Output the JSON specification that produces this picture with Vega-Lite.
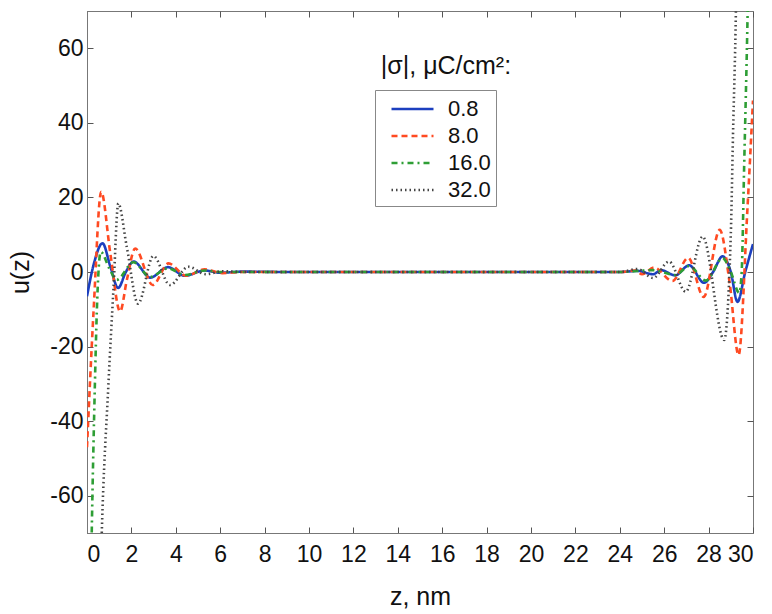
{
  "$schema": "https://vega.github.io/schema/vega-lite/v6.json",
  "width": 666,
  "height": 522,
  "autosize": {"type": "none"},
  "padding": {"left": 87, "top": 11, "right": 19, "bottom": 81},
  "background": "#ffffff",
  "config": {
    "font": "Liberation Sans",
    "view": {"stroke": "#777", "strokeWidth": 1},
    "axis": {"labelFont": "Liberation Sans", "titleFont": "Liberation Sans", "labelFontSize": 23, "titleFontSize": 25, "titleFontWeight": "normal", "labelColor": "#111", "titleColor": "#111", "domainColor": "#777", "tickColor": "#555", "grid": false, "tickSize": -6, "labelExpr": "replace(datum.label, '−', '-')"}
  },
  "datasets": {
    "curves": [
      {"z": 0, "u": -6.5, "s": "0.8"}, {"z": 0.3, "u": 2, "s": "0.8"}, {"z": 0.7, "u": 7.7, "s": "0.8"}, {"z": 1.05, "u": 1.5, "s": "0.8"}, {"z": 1.4, "u": -4.3, "s": "0.8"}, {"z": 1.75, "u": 0, "s": "0.8"}, {"z": 2.1, "u": 2.8, "s": "0.8"}, {"z": 2.85, "u": -1.5, "s": "0.8"}, {"z": 3.65, "u": 1.3, "s": "0.8"}, {"z": 4.4, "u": -1.0, "s": "0.8"}, {"z": 5.3, "u": 0.4, "s": "0.8"}, {"z": 6.0, "u": -0.2, "s": "0.8"}, {"z": 7, "u": 0.1, "s": "0.8"}, {"z": 9, "u": 0, "s": "0.8"}, {"z": 12, "u": 0, "s": "0.8"}, {"z": 15, "u": 0, "s": "0.8"}, {"z": 18, "u": 0, "s": "0.8"}, {"z": 21, "u": 0, "s": "0.8"}, {"z": 23, "u": 0, "s": "0.8"}, {"z": 24, "u": 0, "s": "0.8"}, {"z": 24.8, "u": 0.3, "s": "0.8"}, {"z": 25.5, "u": -0.6, "s": "0.8"}, {"z": 25.85, "u": 0.5, "s": "0.8"}, {"z": 26.5, "u": -0.9, "s": "0.8"}, {"z": 27.12, "u": 1.8, "s": "0.8"}, {"z": 27.8, "u": -2.9, "s": "0.8"}, {"z": 28.2, "u": 0, "s": "0.8"}, {"z": 28.63, "u": 4.2, "s": "0.8"}, {"z": 29.0, "u": 0, "s": "0.8"}, {"z": 29.3, "u": -8.0, "s": "0.8"}, {"z": 29.65, "u": 0, "s": "0.8"}, {"z": 30, "u": 7.5, "s": "0.8"},

      {"z": 0, "u": -47, "s": "8.0"}, {"z": 0.3, "u": -10, "s": "8.0"}, {"z": 0.64, "u": 21.5, "s": "8.0"}, {"z": 1.05, "u": 5, "s": "8.0"}, {"z": 1.49, "u": -10.6, "s": "8.0"}, {"z": 1.8, "u": -2, "s": "8.0"}, {"z": 2.17, "u": 6.3, "s": "8.0"}, {"z": 2.96, "u": -3.5, "s": "8.0"}, {"z": 3.67, "u": 2.3, "s": "8.0"}, {"z": 4.47, "u": -1.0, "s": "8.0"}, {"z": 5.3, "u": 0.7, "s": "8.0"}, {"z": 6.1, "u": -0.3, "s": "8.0"}, {"z": 7, "u": 0, "s": "8.0"}, {"z": 9, "u": 0, "s": "8.0"}, {"z": 12, "u": 0, "s": "8.0"}, {"z": 15, "u": 0, "s": "8.0"}, {"z": 18, "u": 0, "s": "8.0"}, {"z": 21, "u": 0, "s": "8.0"}, {"z": 23, "u": 0, "s": "8.0"}, {"z": 24, "u": 0, "s": "8.0"}, {"z": 24.7, "u": 0.4, "s": "8.0"}, {"z": 25.0, "u": -0.6, "s": "8.0"}, {"z": 25.55, "u": 1.2, "s": "8.0"}, {"z": 26.37, "u": -2.4, "s": "8.0"}, {"z": 27.08, "u": 3.8, "s": "8.0"}, {"z": 27.78, "u": -6.7, "s": "8.0"}, {"z": 28.5, "u": 11.3, "s": "8.0"}, {"z": 28.95, "u": -3, "s": "8.0"}, {"z": 29.35, "u": -22.3, "s": "8.0"}, {"z": 29.75, "u": 17, "s": "8.0"}, {"z": 30, "u": 46, "s": "8.0"},

      {"z": 0, "u": -160, "s": "16.0"}, {"z": 0.21, "u": -71, "s": "16.0"}, {"z": 0.36, "u": -29, "s": "16.0"}, {"z": 0.44, "u": -11, "s": "16.0"}, {"z": 0.62, "u": 5.4, "s": "16.0"}, {"z": 1.0, "u": 1, "s": "16.0"}, {"z": 1.34, "u": -2.1, "s": "16.0"}, {"z": 2.09, "u": 2.6, "s": "16.0"}, {"z": 2.85, "u": -1.3, "s": "16.0"}, {"z": 3.65, "u": 1.0, "s": "16.0"}, {"z": 4.4, "u": -0.8, "s": "16.0"}, {"z": 5.3, "u": 0.4, "s": "16.0"}, {"z": 6, "u": 0, "s": "16.0"}, {"z": 9, "u": 0, "s": "16.0"}, {"z": 12, "u": 0, "s": "16.0"}, {"z": 15, "u": 0, "s": "16.0"}, {"z": 18, "u": 0, "s": "16.0"}, {"z": 21, "u": 0, "s": "16.0"}, {"z": 24, "u": 0, "s": "16.0"}, {"z": 25.5, "u": 0.5, "s": "16.0"}, {"z": 26.5, "u": -0.8, "s": "16.0"}, {"z": 27.12, "u": 1.6, "s": "16.0"}, {"z": 27.88, "u": -2.3, "s": "16.0"}, {"z": 28.63, "u": 3.7, "s": "16.0"}, {"z": 29.0, "u": 0, "s": "16.0"}, {"z": 29.38, "u": -5.6, "s": "16.0"}, {"z": 29.49, "u": 0, "s": "16.0"}, {"z": 29.6, "u": 28, "s": "16.0"}, {"z": 29.76, "u": 70, "s": "16.0"}, {"z": 30, "u": 160, "s": "16.0"},

      {"z": 0.4, "u": -140, "s": "32.0"}, {"z": 0.66, "u": -71, "s": "32.0"}, {"z": 0.96, "u": -30.7, "s": "32.0"}, {"z": 1.19, "u": -4.8, "s": "32.0"}, {"z": 1.41, "u": 18.4, "s": "32.0"}, {"z": 1.79, "u": 6.8, "s": "32.0"}, {"z": 2.3, "u": -8.5, "s": "32.0"}, {"z": 2.99, "u": 4.3, "s": "32.0"}, {"z": 3.74, "u": -3.5, "s": "32.0"}, {"z": 4.57, "u": 1.4, "s": "32.0"}, {"z": 5.35, "u": -0.6, "s": "32.0"}, {"z": 6.1, "u": 0.2, "s": "32.0"}, {"z": 7, "u": 0, "s": "32.0"}, {"z": 9, "u": 0, "s": "32.0"}, {"z": 12, "u": 0, "s": "32.0"}, {"z": 15, "u": 0, "s": "32.0"}, {"z": 18, "u": 0, "s": "32.0"}, {"z": 21, "u": 0, "s": "32.0"}, {"z": 24, "u": 0, "s": "32.0"}, {"z": 24.8, "u": 0.8, "s": "32.0"}, {"z": 25.5, "u": -1.6, "s": "32.0"}, {"z": 26.22, "u": 2.8, "s": "32.0"}, {"z": 26.97, "u": -5.3, "s": "32.0"}, {"z": 27.73, "u": 9.5, "s": "32.0"}, {"z": 28.7, "u": -18.2, "s": "32.0"}, {"z": 29.0, "u": 10, "s": "32.0"}, {"z": 29.1, "u": 37, "s": "32.0"}, {"z": 29.23, "u": 70, "s": "32.0"}, {"z": 29.4, "u": 150, "s": "32.0"}
    ]
  },
  "layer": [
    {
      "data": {"name": "curves"},
      "mark": {"type": "line", "clip": true, "interpolate": "monotone"},
      "encoding": {
        "x": {"field": "z", "type": "quantitative", "scale": {"domain": [0, 30], "nice": false, "zero": false}, "axis": {"values": [0,2,4,6,8,10,12,14,16,18,20,22,24,26,28,30], "title": "z, nm", "titlePadding": 18, "labelPadding": 16}},
        "y": {"field": "u", "type": "quantitative", "scale": {"domain": [-70, 70], "nice": false, "zero": false}, "axis": {"values": [-60,-40,-20,0,20,40,60], "title": "u(z)", "titlePadding": 16, "labelPadding": 10}},
        "color": {"field": "s", "type": "nominal", "scale": {"domain": ["0.8", "8.0", "16.0", "32.0"], "range": ["#1c3fbf", "#ff4a22", "#2e9e35", "#444444"]},
          "legend": {"orient": "none", "legendX": 288, "legendY": 79, "title": null, "symbolType": "M-0.2,0H3.16", "symbolSize": 625, "symbolStrokeWidth": 2.5, "labelFontSize": 22, "labelFont": "Liberation Sans", "labelColor": "#111", "labelExpr": "datum.label + '\u00a0\u00a0\u00a0\u00a0\u00a0\u00a0'", "strokeColor": "#888", "fillColor": "#ffffff", "padding": 5, "rowPadding": 2, "labelOffset": 40, "cornerRadius": 0}},
        "strokeDash": {"field": "s", "type": "nominal", "scale": {"domain": ["0.8", "8.0", "16.0", "32.0"], "range": [[1, 0], [6, 4], [6, 4, 2, 4], [1.5, 3]]}, "legend": null},
        "strokeWidth": {"field": "s", "type": "nominal", "scale": {"domain": ["0.8", "8.0", "16.0", "32.0"], "range": [2.6, 2.6, 2.6, 1.2]}, "legend": null}
      }
    },
    {
      "data": {"values": [{"t": "|σ|, μC/cm²:"}]},
      "mark": {"type": "text", "fontSize": 25, "font": "Liberation Sans", "color": "#111", "align": "center", "baseline": "middle"},
      "encoding": {
        "text": {"field": "t"},
        "x": {"datum": 16.17, "type": "quantitative", "axis": {"orient": "top", "labels": false, "title": null, "domain": false, "values": [0,2,4,6,8,10,12,14,16,18,20,22,24,26,28,30]}},
        "y": {"datum": 55.3, "type": "quantitative", "axis": {"orient": "right", "labels": false, "title": null, "domain": false, "values": [-60,-40,-20,0,20,40,60]}}
      }
    }
  ],
  "resolve": {"axis": {"x": "independent", "y": "independent"}}
}
